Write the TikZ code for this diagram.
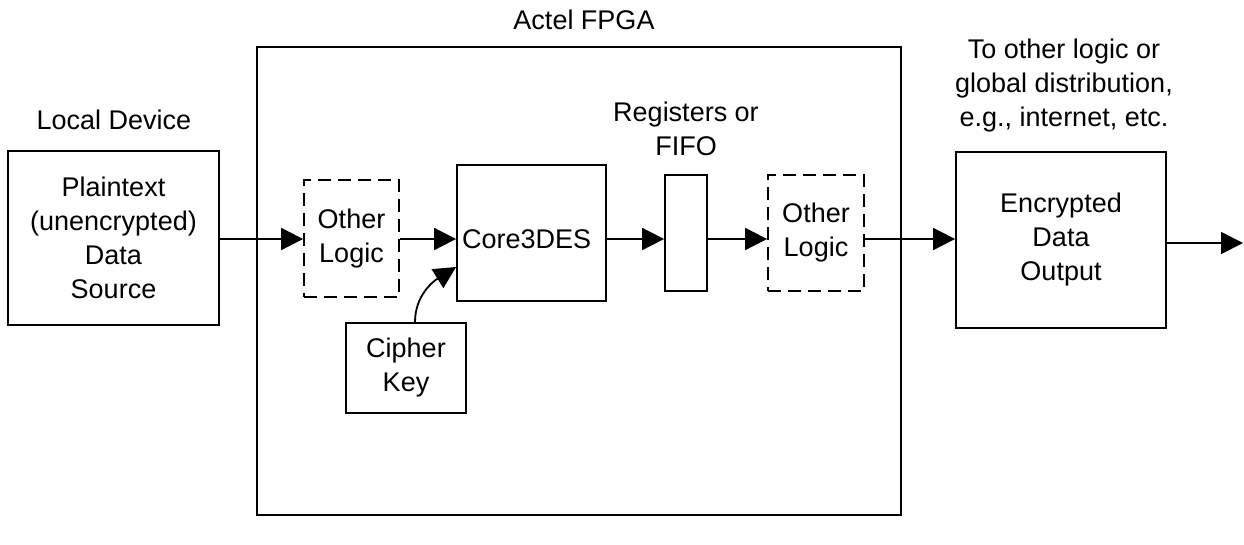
\documentclass[tikz,border=0pt]{standalone}
\usepackage{fontspec}
\setmainfont{Liberation Sans}
\usetikzlibrary{arrows.meta}
\tikzset{
  every node/.style={font=\fontsize{27}{34}\selectfont, align=center},
  box/.style={draw, line width=1.8pt, inner sep=0pt},
  dbox/.style={draw, line width=1.8pt, inner sep=0pt, dash pattern=on 13pt off 7pt},
  fpga/.style={draw, line width=2.8pt, inner sep=0pt},
  arr/.style={line width=1.8pt, -{Triangle[length=22pt,width=22pt]}},
  lbl/.style={inner sep=0pt},
}
\begin{document}
\begin{tikzpicture}[x=1pt,y=-1pt]
\useasboundingbox (0,0) rectangle (1244,544);
% FPGA outline
\node[fpga, minimum width=644pt, minimum height=468pt] (fpgabox) at (579,281) {};
\node[lbl] (fpgalbl) at (584,20) {Actel FPGA};
% labels
\node[lbl] (locallbl) at (114,120) {Local Device};
\node[lbl] (reglbl) at (686,129) {Registers or\\FIFO};
\node[lbl] (outlbl) at (1064,86) {To other logic or\\global distribution,\\e.g., internet, etc.};
% boxes
\node[box, minimum width=211pt, minimum height=174pt] (src) at (113.5,238) {Plaintext\\(unencrypted)\\Data\\Source};
\node[dbox, minimum width=95pt, minimum height=117pt] (ol1) at (351.5,238.5) {Other\\Logic};
\node[box, minimum width=149pt, minimum height=136pt] (core) at (531.5,233) {};
\node[lbl, anchor=west] (coretxt) at (462,239) {Core3DES};
\node[box, minimum width=120pt, minimum height=90pt] (key) at (406,368) {Cipher\\Key};
\node[box, minimum width=42pt, minimum height=116pt] (reg) at (686,233) {};
\node[dbox, minimum width=96pt, minimum height=116pt] (ol2) at (816,233) {Other\\Logic};
\node[box, minimum width=210pt, minimum height=176pt] (enc) at (1061,240) {Encrypted\\Data\\Output};
\coordinate (outend) at (1243,243);
% connectors
\draw[arr] (src.east |- 0,239) -- (ol1.west |- 0,239);
\draw[arr] (ol1.east |- 0,239) -- (core.west |- 0,239);
\draw[arr] (core.east |- 0,239) -- (reg.west |- 0,239);
\draw[arr] (reg.east |- 0,239) -- (ol2.west |- 0,239);
\draw[arr] (ol2.east |- 0,239) -- (enc.west |- 0,239);
\draw[arr] (enc.east |- outend) -- (outend);
\draw[arr] ([xshift=9pt]key.north) to[out=90,in=212] (core.west |- 0,267);
\end{tikzpicture}
\end{document}
